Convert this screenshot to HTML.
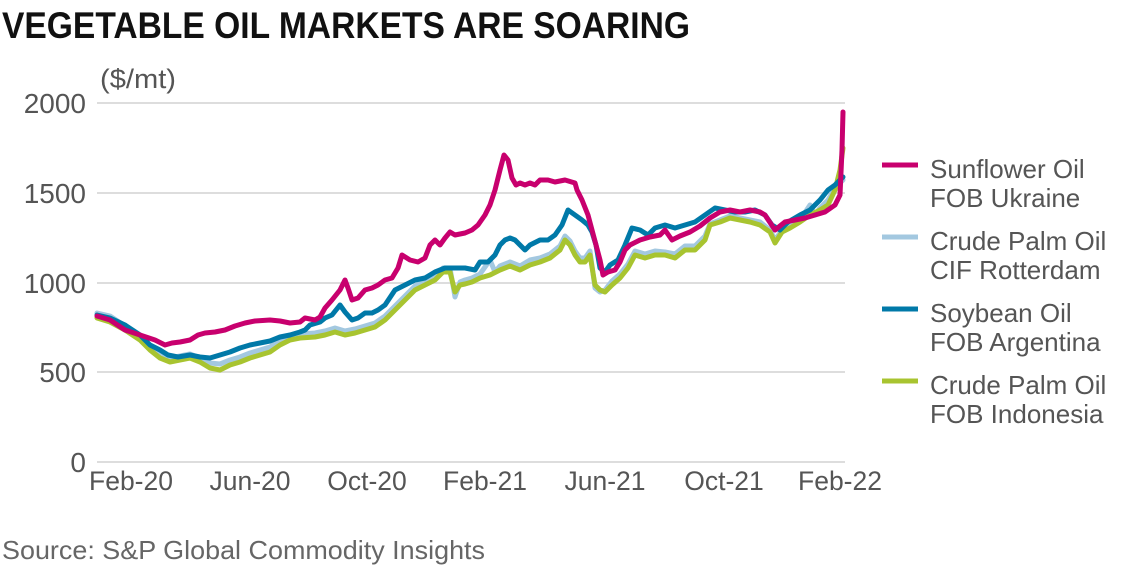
<!DOCTYPE html>
<html><head><meta charset="utf-8"><style>
body{margin:0;background:#fff;}
svg{display:block;}
text{font-family:"Liberation Sans",sans-serif;}
</style></head><body>
<svg width="1122" height="567" viewBox="0 0 1122 567">
<text x="2" y="38" font-size="37" font-weight="bold" fill="#111" font-family="Liberation Sans Narrow, Liberation Sans, sans-serif" textLength="688" lengthAdjust="spacingAndGlyphs">VEGETABLE OIL MARKETS ARE SOARING</text>
<text x="100" y="88" font-size="27" fill="#555" textLength="76" lengthAdjust="spacingAndGlyphs">($/mt)</text>
<g stroke="#ddd" stroke-width="2">
<line x1="97" y1="103" x2="845" y2="103"/><line x1="97" y1="193" x2="845" y2="193"/><line x1="97" y1="283" x2="845" y2="283"/><line x1="97" y1="372" x2="845" y2="372"/><line x1="97" y1="462" x2="845" y2="462"/>
</g>
<g font-size="28" fill="#555" text-anchor="end">
<text x="86" y="113">2000</text><text x="86" y="203">1500</text><text x="86" y="293">1000</text><text x="86" y="382">500</text><text x="86" y="472">0</text>
</g>
<g font-size="26.5" fill="#555" text-anchor="middle">
<text x="131" y="490">Feb-20</text><text x="250" y="490">Jun-20</text><text x="367" y="490">Oct-20</text><text x="485" y="490">Feb-21</text><text x="605" y="490">Jun-21</text><text x="724" y="490">Oct-21</text><text x="840" y="490">Feb-22</text>
</g>
<g fill="none" stroke-width="5" stroke-linejoin="round" stroke-linecap="round">
<polyline stroke="#a3c8e0" points="97,313 110,316 125,326 140,337 150,346 160,354 170,358 180,356 190,354 200,358 210,363 220,364 230,360 240,357 250,353 260,350 270,347 280,341 290,337 300,334 315,333 325,331 335,328 345,331 355,329 365,326 375,323 385,316 395,306 405,296 415,286 425,281 435,276 443,268 450,268 455,297 460,282 465,280 472,278 480,274 490,260 495,272 500,266 510,262 520,266 530,260 540,258 550,254 560,246 565,236 570,241 575,251 580,258 585,258 590,251 595,288 600,292 605,290 612,281 620,274 628,264 635,251 645,254 655,251 665,252 675,254 685,246 695,246 705,236 710,224 720,220 730,216 740,218 750,220 760,222 770,230 775,240 782,230 790,226 800,220 810,205 815,215 820,208 828,200 835,188 843,180"/>
<polyline stroke="#a8c430" points="97,318 110,322 125,330 140,340 150,350 160,358 170,362 180,360 190,358 200,362 210,368 220,370 230,365 240,362 250,358 260,355 270,352 280,345 290,340 300,338 315,337 325,335 335,332 345,335 355,333 365,330 375,327 385,320 395,310 405,300 415,290 425,285 435,280 443,272 450,272 455,292 460,285 465,284 472,282 480,278 490,275 500,270 510,266 520,270 530,265 540,262 550,258 560,250 565,240 570,245 575,255 580,262 585,262 590,255 595,285 600,290 605,292 612,285 620,278 628,268 635,255 645,258 655,255 665,255 675,258 685,250 695,250 705,240 710,225 720,222 730,218 740,220 750,222 760,225 770,232 775,243 782,232 790,228 800,222 810,215 820,210 828,205 835,190 840,170 843,148"/>
<polyline stroke="#0079a8" points="97,315 110,318 125,325 140,335 150,345 160,350 168,355 178,357 190,355 200,357 210,358 220,355 230,352 240,348 250,345 260,343 270,341 280,337 290,335 300,332 305,330 310,325 320,322 325,318 332,315 340,305 345,312 352,320 358,318 365,313 372,313 378,310 385,305 395,290 405,285 415,280 425,278 435,272 445,268 455,268 465,268 475,270 480,262 488,262 495,255 500,245 505,240 510,238 515,240 520,245 525,250 530,245 540,240 548,240 555,235 562,225 568,210 575,215 582,220 588,225 592,232 596,245 600,268 605,272 610,265 618,260 625,245 632,228 640,230 648,235 655,228 665,225 675,228 685,225 695,222 705,215 715,208 725,210 735,212 745,212 755,210 765,215 772,225 780,230 788,222 800,215 810,210 820,200 828,190 835,185 840,180 843,177"/>
<polyline stroke="#c8006e" points="97,316 110,320 125,330 140,335 155,340 165,345 172,343 180,342 190,340 198,335 205,333 215,332 225,330 235,326 245,323 255,321 270,320 280,321 290,323 300,322 305,318 315,320 320,317 325,308 332,300 340,290 345,280 348,288 352,300 358,298 365,290 372,288 378,285 385,280 392,278 398,268 402,255 410,260 418,262 425,258 430,245 435,240 440,245 445,238 450,232 455,235 465,233 472,230 478,225 485,215 490,205 495,190 500,170 504,155 508,160 512,178 516,185 520,183 525,185 530,183 535,185 540,180 548,180 555,182 565,180 575,183 577,190 582,200 588,215 592,230 596,245 600,260 603,275 608,272 615,270 620,262 625,250 630,245 640,240 650,237 660,235 665,230 672,240 680,236 690,232 700,226 710,218 720,212 730,210 740,212 750,210 760,212 765,215 775,230 785,222 795,220 805,218 815,215 825,212 835,205 840,195 842,150 843,112"/>
</g>
<g stroke-width="5">
<line x1="882" y1="165" x2="918" y2="165" stroke="#c8006e"/>
<line x1="882" y1="237" x2="918" y2="237" stroke="#a3c8e0"/>
<line x1="882" y1="309" x2="918" y2="309" stroke="#0079a8"/>
<line x1="882" y1="381" x2="918" y2="381" stroke="#a8c430"/>
</g>
<g font-size="26" fill="#555">
<text x="930" y="178">Sunflower Oil</text><text x="930" y="207">FOB Ukraine</text>
<text x="930" y="250">Crude Palm Oil</text><text x="930" y="279">CIF Rotterdam</text>
<text x="930" y="322">Soybean Oil</text><text x="930" y="351">FOB Argentina</text>
<text x="930" y="394">Crude Palm Oil</text><text x="930" y="423">FOB Indonesia</text>
</g>
<text x="2" y="559" font-size="26" fill="#666" textLength="483" lengthAdjust="spacingAndGlyphs">Source: S&amp;P Global Commodity Insights</text>
</svg>
</body></html>
